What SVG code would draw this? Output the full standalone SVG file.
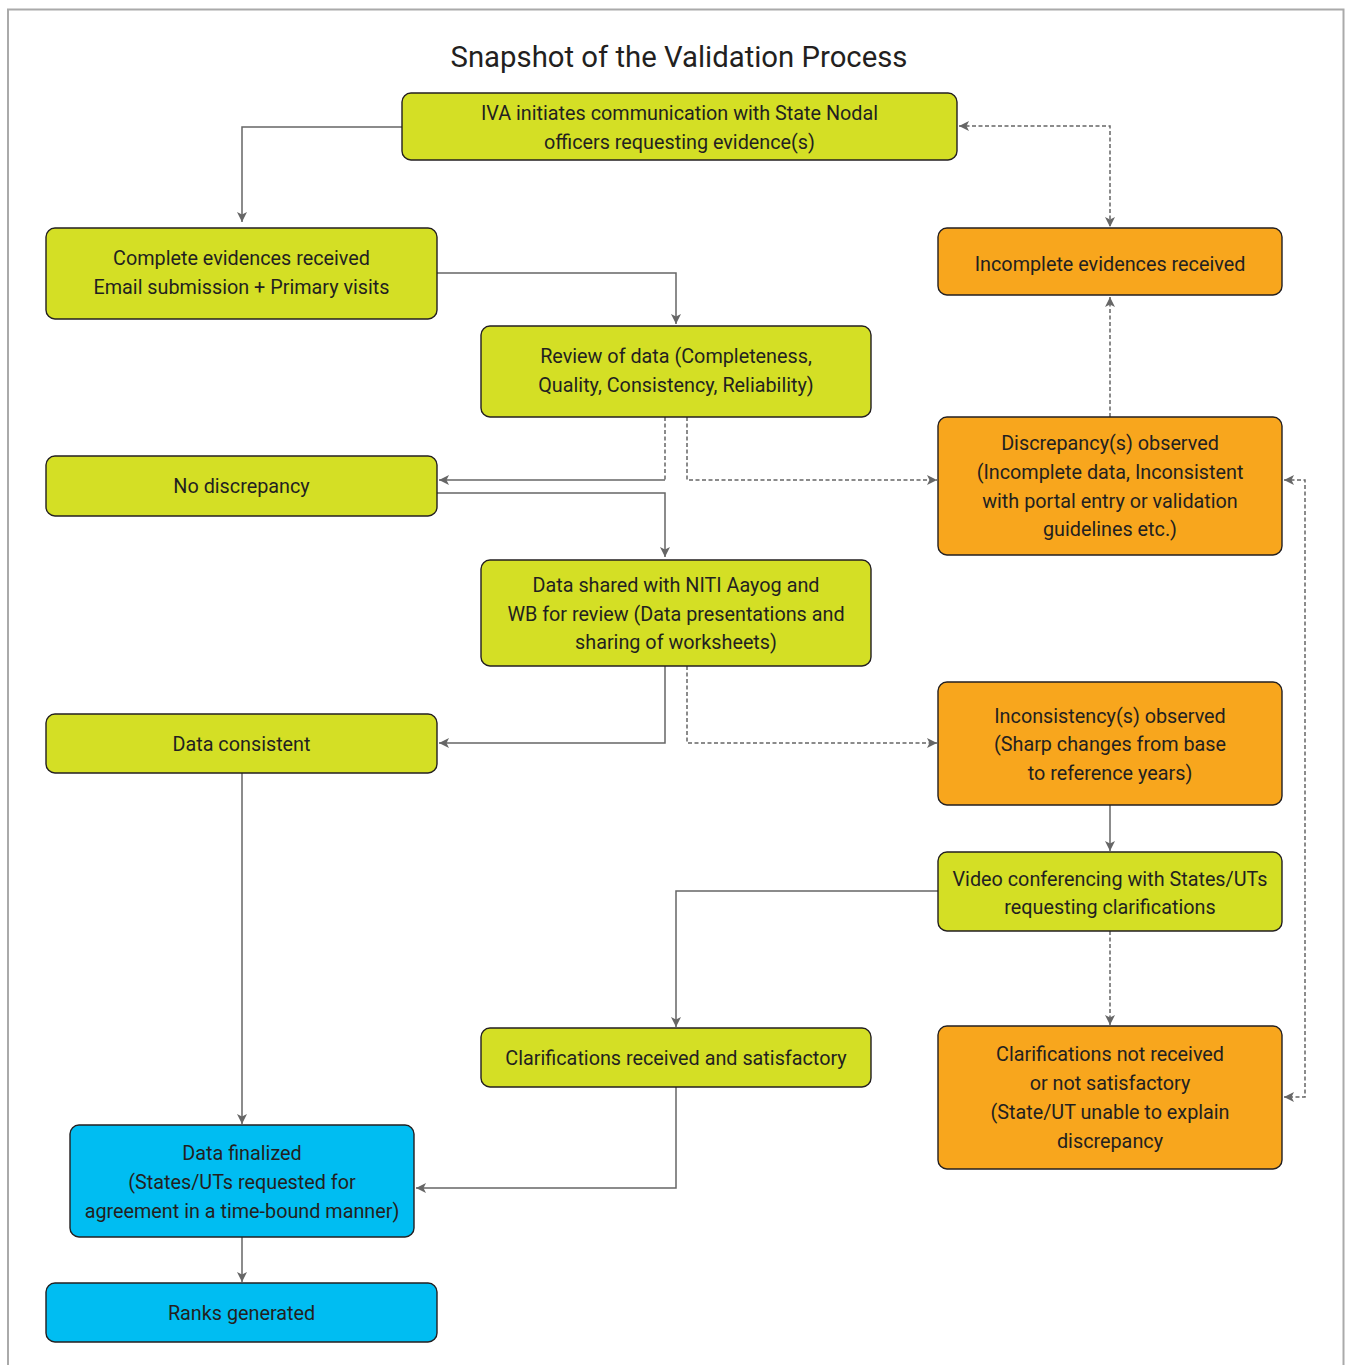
<svg xmlns="http://www.w3.org/2000/svg" width="1348" height="1365" viewBox="0 0 1348 1365">
<style>
.g{fill:#d4df25;stroke:#231f20;stroke-width:1.4}
.o{fill:#f8a61d;stroke:#231f20;stroke-width:1.4}
.b{fill:#00bdf2;stroke:#231f20;stroke-width:1.4}
text{font-family:Roboto,"Liberation Sans",sans-serif;font-size:19.8px;fill:#231f20;text-anchor:middle;dominant-baseline:central}
.t{font-size:29.3px}
.c{fill:none;stroke:#666;stroke-width:1.5}
.d{fill:none;stroke:#666;stroke-width:1.5;stroke-dasharray:4 2.5}
</style>
<defs>
<marker id="a" viewBox="0 0 10 10" refX="10" refY="5" markerWidth="10" markerHeight="10" markerUnits="userSpaceOnUse" orient="auto-start-reverse"><path d="M0,0 L10,5 L0,10 L2.5,5 Z" fill="#666"/></marker>
</defs>
<rect x="0" y="0" width="1348" height="1365" fill="#fff"/>
<rect x="8" y="9.5" width="1335.5" height="1370" fill="none" stroke="#aaa" stroke-width="2"/>
<text class="t" x="679" y="57">Snapshot of the Validation Process</text>

<g id="connectors">
<path class="c" d="M402,127 H242 V222" marker-end="url(#a)"/>
<path class="c" d="M437,273 H676 V324" marker-end="url(#a)"/>
<path class="d" d="M665,417 V480"/>
<path class="c" d="M665,480 H439" marker-end="url(#a)"/>
<path class="d" d="M687,417 V480 H937" marker-end="url(#a)"/>
<path class="c" d="M437,493 H665 V557" marker-end="url(#a)"/>
<path class="c" d="M665,666 V743 H439" marker-end="url(#a)"/>
<path class="d" d="M687,666 V743 H937" marker-end="url(#a)"/>
<path class="d" d="M959,126 H1110 V227" marker-start="url(#a)" marker-end="url(#a)"/>
<path class="d" d="M1110,417 V297" marker-end="url(#a)"/>
<path class="d" d="M1284,480 H1305 V1097 H1284" marker-start="url(#a)" marker-end="url(#a)"/>
<path class="c" d="M1110,805 V851" marker-end="url(#a)"/>
<path class="c" d="M938,891 H676 V1027" marker-end="url(#a)"/>
<path class="d" d="M1110,931 V1025" marker-end="url(#a)"/>
<path class="c" d="M676,1087 V1188 H416" marker-end="url(#a)"/>
<path class="c" d="M242,773 V1124" marker-end="url(#a)"/>
<path class="c" d="M242,1237 V1282" marker-end="url(#a)"/>
</g>

<g id="n1"><rect class="g" x="402" y="93" width="555" height="67" rx="9"/>
<text x="679.5" y="113">IVA initiates communication with State Nodal</text>
<text x="679.5" y="142">officers requesting evidence(s)</text></g>

<g id="n2"><rect class="g" x="46" y="228" width="391" height="91" rx="9"/>
<text x="241.5" y="258">Complete evidences received</text>
<text x="241.5" y="287">Email submission + Primary visits</text></g>

<g id="n3"><rect class="o" x="938" y="228" width="344" height="67" rx="9"/>
<text x="1110" y="264">Incomplete evidences received</text></g>

<g id="n4"><rect class="g" x="481" y="326" width="390" height="91" rx="9"/>
<text x="676" y="356">Review of data (Completeness,</text>
<text x="676" y="385">Quality, Consistency, Reliability)</text></g>

<g id="n5"><rect class="g" x="46" y="456" width="391" height="60" rx="9"/>
<text x="241.5" y="486">No discrepancy</text></g>

<g id="n6"><rect class="o" x="938" y="417" width="344" height="138" rx="9"/>
<text x="1110" y="443">Discrepancy(s) observed</text>
<text x="1110" y="472">(Incomplete data, Inconsistent</text>
<text x="1110" y="501">with portal entry or validation</text>
<text x="1110" y="529">guidelines etc.)</text></g>

<g id="n7"><rect class="g" x="481" y="560" width="390" height="106" rx="9"/>
<text x="676" y="585">Data shared with NITI Aayog and</text>
<text x="676" y="614">WB for review (Data presentations and</text>
<text x="676" y="642">sharing of worksheets)</text></g>

<g id="n8"><rect class="g" x="46" y="714" width="391" height="59" rx="9"/>
<text x="241.5" y="744">Data consistent</text></g>

<g id="n9"><rect class="o" x="938" y="682" width="344" height="123" rx="9"/>
<text x="1110" y="716">Inconsistency(s) observed</text>
<text x="1110" y="744">(Sharp changes from base</text>
<text x="1110" y="773">to reference years)</text></g>

<g id="n10"><rect class="g" x="938" y="852" width="344" height="79" rx="9"/>
<text x="1110" y="879">Video conferencing with States/UTs</text>
<text x="1110" y="907">requesting clarifications</text></g>

<g id="n11"><rect class="g" x="481" y="1028" width="390" height="59" rx="9"/>
<text x="676" y="1058">Clarifications received and satisfactory</text></g>

<g id="n12"><rect class="o" x="938" y="1026" width="344" height="143" rx="9"/>
<text x="1110" y="1054">Clarifications not received</text>
<text x="1110" y="1083">or not satisfactory</text>
<text x="1110" y="1112">(State/UT unable to explain</text>
<text x="1110" y="1141">discrepancy</text></g>

<g id="n13"><rect class="b" x="70" y="1125" width="344" height="112" rx="9"/>
<text x="242" y="1153">Data finalized</text>
<text x="242" y="1182">(States/UTs requested for</text>
<text x="242" y="1211">agreement in a time-bound manner)</text></g>

<g id="n14"><rect class="b" x="46" y="1283" width="391" height="59" rx="9"/>
<text x="241.5" y="1313">Ranks generated</text></g>
</svg>
